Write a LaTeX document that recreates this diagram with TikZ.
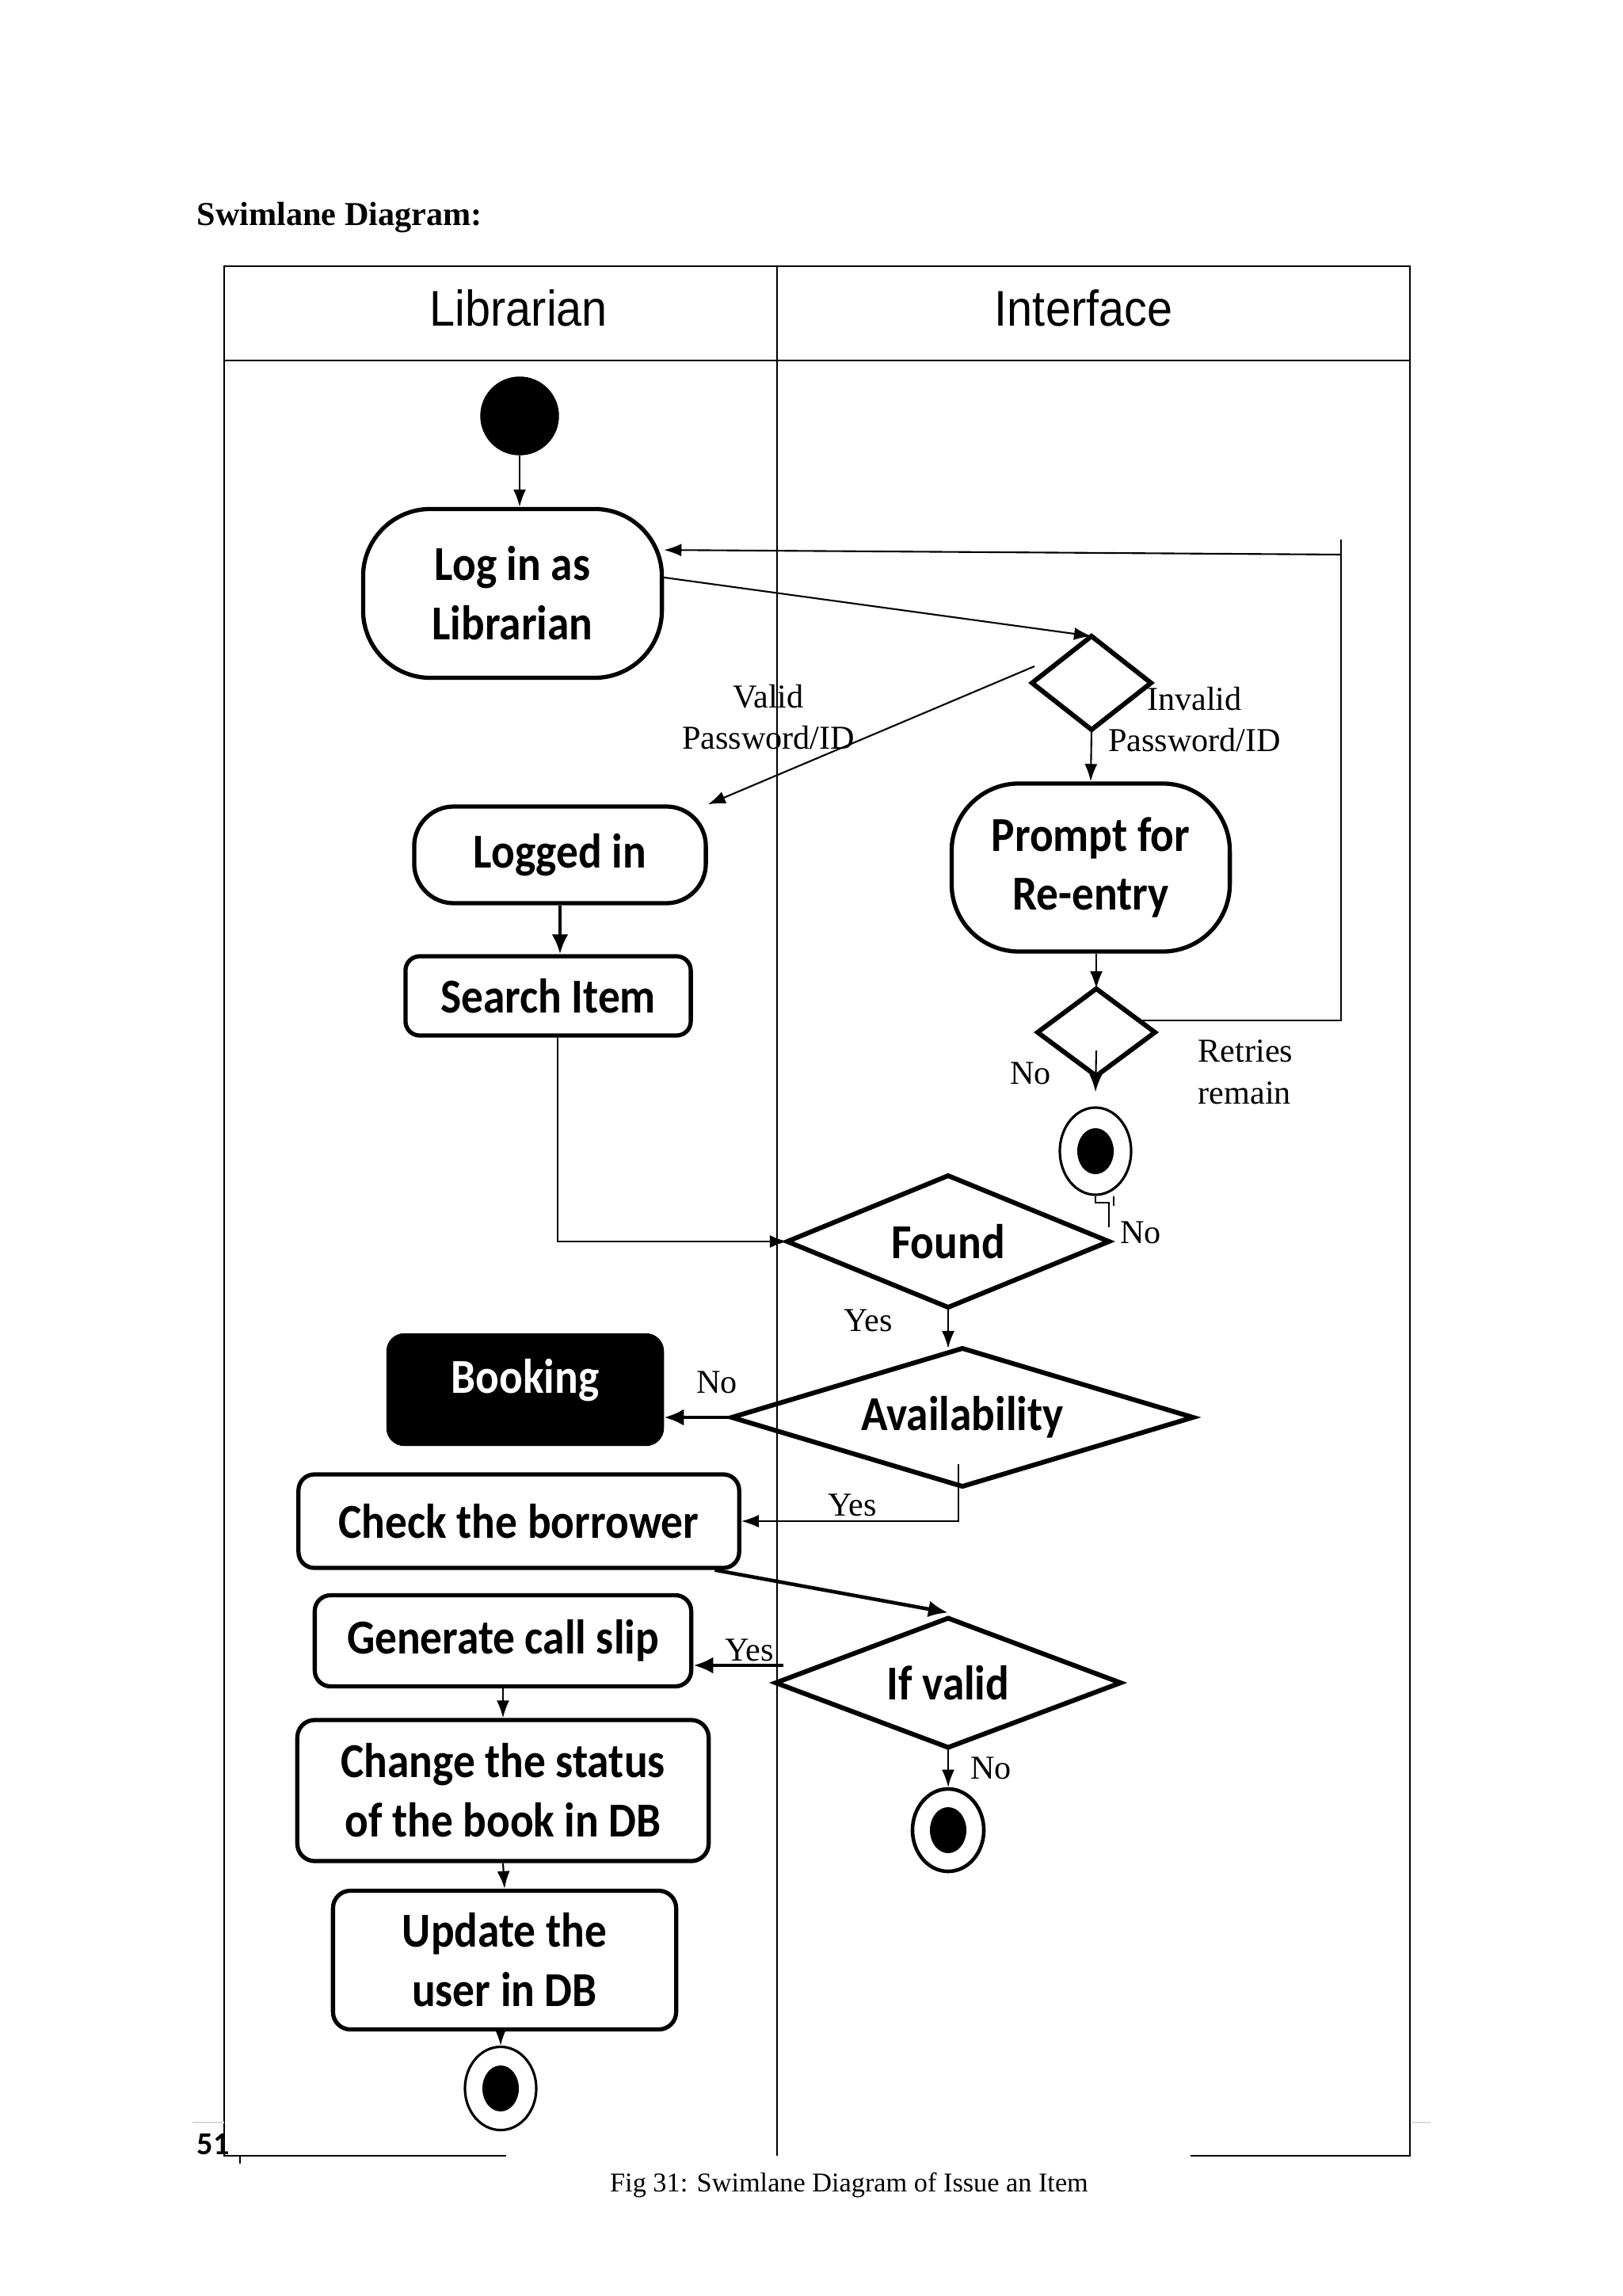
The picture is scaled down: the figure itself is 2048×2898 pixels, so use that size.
\documentclass[tikz,border=0pt]{standalone}
\usepackage{fontspec}
\setmainfont{Liberation Serif}
\newfontfamily\lanefont[FakeStretch=0.91]{Liberation Sans}
\newfontfamily\actfont[FakeStretch=0.9]{Carlito}
\newfontfamily\pagefont{Carlito}
\usetikzlibrary{shapes.geometric,arrows.meta}

\tikzset{
	act/.style={draw, line width=1.5pt, rounded corners=0.2cm, align=center, inner sep=0pt,
		font=\actfont\bfseries\fontsize{17.5}{21.3}\selectfont},
	choice/.style={draw, diamond, line width=1.7pt, inner sep=0pt, outer sep=0pt,
		font=\actfont\bfseries\fontsize{17.5}{21.3}\selectfont},
	endnode/.style={draw, ellipse, line width=0.9pt, inner sep=0pt, minimum width=0.9cm, minimum height=1.08cm,
		path picture={\fill (path picture bounding box.center) ellipse [x radius=0.23cm, y radius=0.29cm];}},
	lbl/.style={font=\fontsize{12}{15}\selectfont, align=center, inner sep=0pt},
	arr/.style={-{Latex[length=0.22cm,width=0.16cm]}, line width=0.6pt},
	thickarr/.style={-{Latex[length=0.25cm,width=0.21cm]}, line width=1.3pt}
}

\begin{document}
\begin{tikzpicture}[x=0.01cm, y=-0.01cm]
	\useasboundingbox (0,0) rectangle (2048,2898);
	\node[at={(248,285)}, anchor=base west, inner sep=0pt, font=\bfseries\fontsize{12}{14}\selectfont]{Swimlane Diagram:};
	% lanes
	\draw[line width=0.7pt] (639,2721) -- (283,2721) -- (283,336) -- (1780,336) -- (1780,2721) -- (1503,2721);
	\draw[line width=0.8pt] (283,455) -- (1780,455);
	\draw[line width=0.45pt] (981,336) -- (981,2721);
	\node[at={(655,412)}, anchor=base, font=\lanefont\fontsize{18}{22}\selectfont]{Librarian};
	\node[at={(1368,412)}, anchor=base, font=\lanefont\fontsize{18}{22}\selectfont]{Interface};
	% librarian lane
	\node (start) [draw, circle, fill, minimum size=0.98cm] at (656,525) {};
	\node (login) [act, rounded corners=0.85cm, minimum width=3.77cm, minimum height=2.13cm] at (647,749) {Log in as\\Librarian};
	\node (logged) [act, rounded corners=0.5cm, minimum width=3.68cm, minimum height=1.22cm] at (707,1079) {Logged in};
	\node (search) [act, rounded corners=0.18cm, minimum width=3.6cm, minimum height=1cm] at (692,1257) {Search Item};
	\node (booking) [act, fill=black, text=white, text depth=0.34cm, minimum width=3.45cm, minimum height=1.37cm] at (663,1754) {Booking};
	\node (check) [act, minimum width=5.56cm, minimum height=1.18cm] at (655,1920) {Check the borrower};
	\node (slip) [act, minimum width=4.75cm, minimum height=1.15cm] at (635,2071) {Generate call slip};
	\node (status) [act, rounded corners=0.22cm, minimum width=5.19cm, minimum height=1.78cm] at (635,2260) {Change the status\\of the book in DB};
	\node (update) [act, rounded corners=0.22cm, minimum width=4.33cm, minimum height=1.75cm] at (637,2474) {Update the\\user in DB};
	\node (end3) [endnode, minimum height=1.05cm] at (632,2636) {};
	% interface lane
	\node (d1) [choice, minimum width=1.5cm, minimum height=1.18cm] at (1378,862) {};
	\node (prompt) [act, rounded corners=0.85cm, minimum width=3.51cm, minimum height=2.12cm] at (1377,1095) {Prompt for\\Re-entry};
	\node (d2) [choice, minimum width=1.48cm, minimum height=1.1cm] at (1384,1303) {};
	\node (end1) [endnode, minimum height=1.1cm] at (1383,1453) {};
	\node (found) [choice, shape aspect=2.45, minimum width=4.06cm, minimum height=1.66cm] at (1197,1567) {Found};
	\node (avail) [choice, shape aspect=3.3, minimum width=5.82cm, minimum height=1.74cm] at (1215,1789) {Availability};
	\node (valid) [choice, shape aspect=2.67, minimum width=4.35cm, minimum height=1.63cm] at (1197,2124) {If valid};
	\node (end2) [endnode, line width=1.3pt, minimum height=1.04cm] at (1197,2310) {};
	\coordinate (looptop) at (1693,681);
	\coordinate (loopturn) at (1693,700);
	\coordinate (vstart) at (1306,841);
	\coordinate (yesvalid) at ([shift={(0.1cm,0.22cm)}]valid.west);
	% flows
	\draw[arr] (start) -- (login.north -| start);
	\draw[arr] (login.6) -- (d1.north);
	\draw[arr] (vstart) -- (logged.north east);
	\draw[arr] (d1.south) -- (prompt.north);
	\draw[thickarr] (logged.south) -- (logged.south |- search.north);
	\draw[arr] ([xshift=0.12cm]search.south) |- (found.west);
	\draw[arr] (d2.north |- prompt.south) -- (d2.north);
	\draw[line width=0.6pt] (d2.15) -| (looptop);
	\draw[arr] (loopturn) -- (login.16);
	\draw[arr] ([yshift=-0.23cm]d2.center) -- ([yshift=0.18cm]end1.north);
	\draw[line width=0.6pt] ([yshift=0.18cm]found.east) -- ++(0,-31) -| (end1.south);
	\draw[line width=0.6pt] ([xshift=0.23cm]end1.south) -- ++(0,12);
	\draw[arr] (found.south) -- (found.south |- avail.north);
	\draw[thickarr] (avail.west) -- (avail.west -| booking.east);
	\draw[arr] ([xshift=-0.05cm,yshift=0.28cm]avail.south) |- (check.east);
	\draw[thickarr] (check.-14) -- ([yshift=0.07cm]valid.north);
	\draw[thickarr] (yesvalid) -- (yesvalid -| slip.east);
	\draw[arr] (valid.south) -- (end2.north);
	\draw[arr] (slip.south) -- (status.north);
	\draw[arr] (status.south) -- (update.north);
	\draw[arr] (end3.north |- update.south) -- (end3.north);
	% guards
	\node[lbl, at={(970,905)}]{Valid\\Password/ID};
	\node[lbl, at={(1508,908)}]{Invalid\\Password/ID};
	\node[lbl, at={(1512,1353)}, anchor=west, align=left]{Retries\\remain};
	\node[lbl, at={(1301,1355)}]{No};
	\node[lbl, at={(1440,1556)}]{No};
	\node[lbl, at={(1096,1667)}]{Yes};
	\node[lbl, at={(905,1745)}]{No};
	\node[lbl, at={(1076,1900)}]{Yes};
	\node[lbl, at={(946,2083)}]{Yes};
	\node[lbl, at={(1251,2232)}]{No};
	% page footer
	\draw[gray!30, line width=0.8pt] (243,2679) -- (283,2679);
	\draw[gray!30, line width=0.8pt] (1783,2679) -- (1806,2679);
	\draw[line width=0.8pt] (303,2722) -- (303,2731);
	\node[at={(248,2719)}, anchor=base west, inner sep=0pt, font=\pagefont\bfseries\fontsize{11.5}{13}\selectfont]{51};
	\node[at={(1072,2766)}, anchor=base, font=\fontsize{9.75}{12}\selectfont]{Fig 31: Swimlane Diagram of Issue an Item};
\end{tikzpicture}
\end{document}
